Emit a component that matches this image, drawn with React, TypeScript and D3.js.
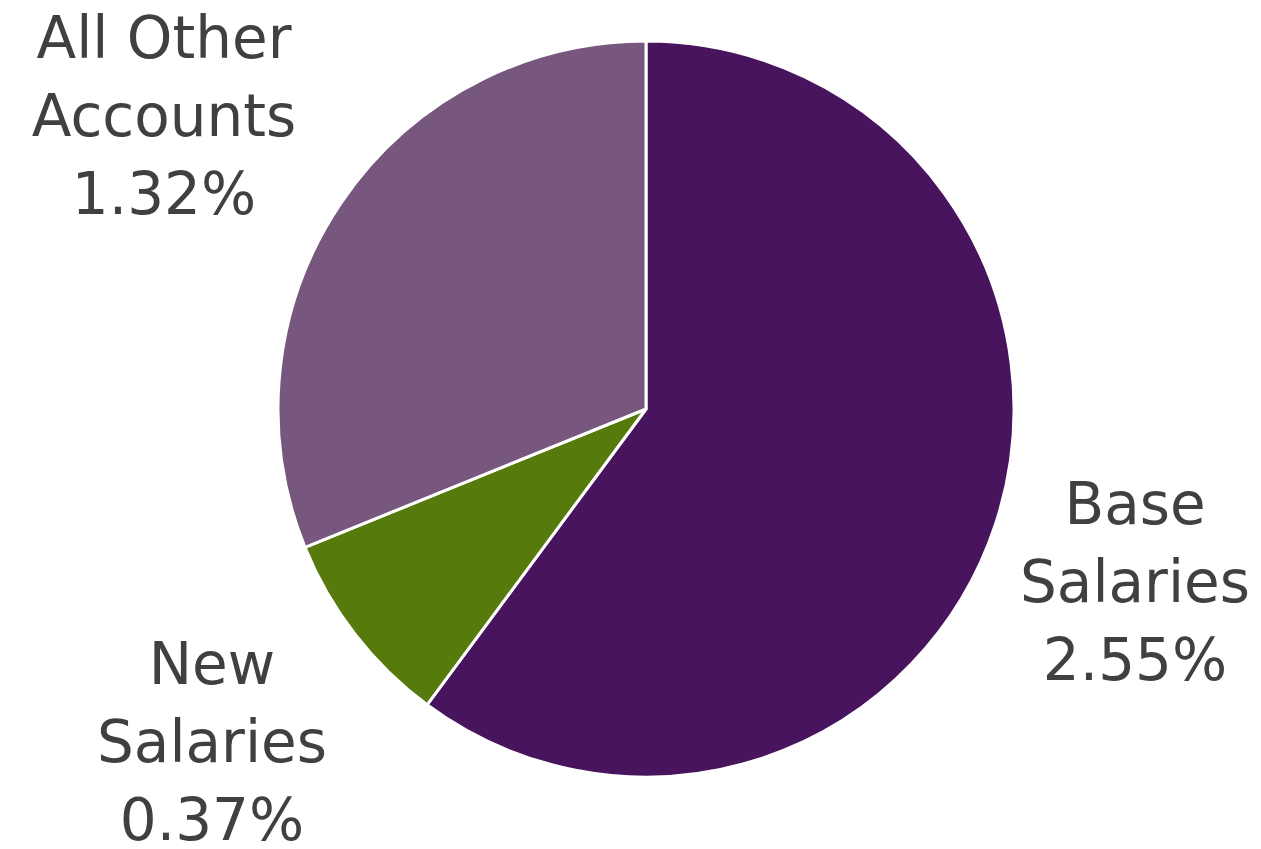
import React from "react";
import * as d3 from "d3";

const categories = ["Base Salaries", "New Salaries", "All Other Accounts"];
const values = [2.55, 0.37, 1.32];
const valueLabels = ["2.55%", "0.37%", "1.32%"];
const colors = ["#48145e", "#567a0c", "#77577d"];
const labelLines = [["Base", "Salaries"], ["New", "Salaries"], ["All Other", "Accounts"]];
const labelPos = [
  { x: 1135, y: 524 },
  { x: 212, y: 684 },
  { x: 164, y: 58 },
];

export default function App() {
  const W = 1261, H = 849;
  const cx = 646, cy = 409, r = 368;
  const data = categories.map((c, i) => ({ c, v: values[i], i }));
  const pie = d3.pie<any>().value((d) => d.v).sort(null);
  const arcs = pie(data);
  const arc = d3.arc<any>().innerRadius(0).outerRadius(r);
  const lh = 78;
  return (
    <svg width={W} height={H} style={{ position: "absolute", left: 0, top: 0, background: "#fff" }}>
      <g transform={`translate(${cx},${cy})`}>
        {arcs.map((a, i) => (
          <path key={i} d={arc(a) as string} fill={colors[i]} stroke="#fff" strokeWidth={3} strokeLinejoin="round" />
        ))}
      </g>
      {labelPos.map((p, i) => (
        <text key={i} x={p.x} y={p.y} textAnchor="middle" fill="#404040"
          style={{ fontFamily: "'DejaVu Sans', sans-serif", fontSize: 58 }}>
          {[...labelLines[i], valueLabels[i]].map((t, j) => (
            <tspan key={j} x={p.x} y={p.y + j * lh}>{t}</tspan>
          ))}
        </text>
      ))}
    </svg>
  );
}
